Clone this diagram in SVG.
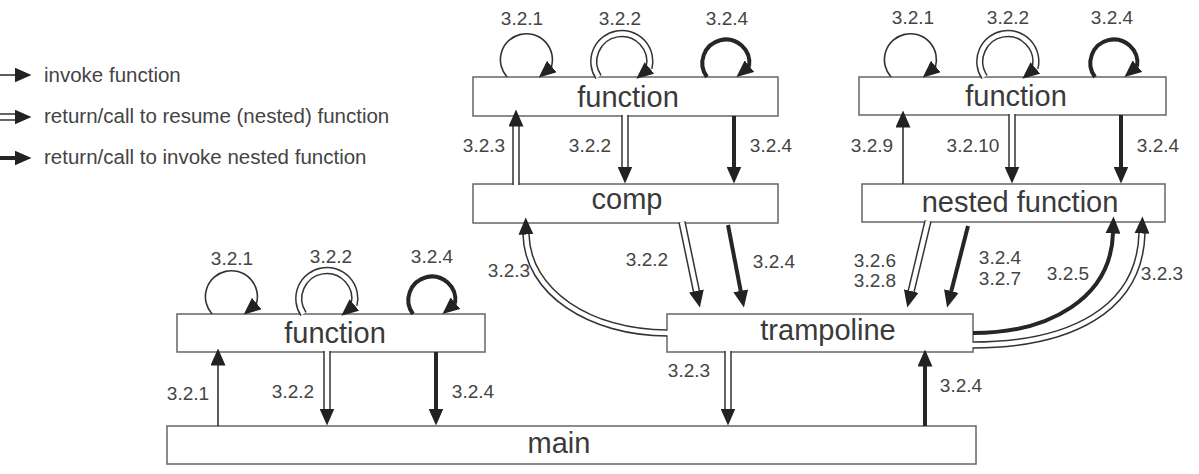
<svg xmlns="http://www.w3.org/2000/svg" width="1199" height="474" viewBox="0 0 1199 474">
<style>
.box{fill:#fff;stroke:#666;stroke-width:1.5}
.nm{font-family:"Liberation Sans",Arial,sans-serif;font-size:29px;fill:#3a3a3a;text-anchor:middle}
.lb{font-family:"Liberation Sans",Arial,sans-serif;font-size:19px;fill:#444;text-anchor:middle}
.lg{font-family:"Liberation Sans",Arial,sans-serif;font-size:20.5px;fill:#444}
.s{fill:none;stroke:#333;stroke-width:1.6}
.t{fill:none;stroke:#262626;stroke-width:4}
.do{fill:none;stroke:#333;stroke-width:7.5}
.di{fill:none;stroke:#fff;stroke-width:4.5}
</style>
<defs>
<marker id="ah" viewBox="0 0 17 15" markerWidth="17" markerHeight="15" refX="0.5" refY="7.5" orient="auto" markerUnits="userSpaceOnUse"><path d="M0,0 L17,7.5 L0,15 Z" fill="#222"/></marker>
<marker id="al" viewBox="0 0 17 15" markerWidth="17" markerHeight="15" refX="0.5" refY="7.5" orient="140" markerUnits="userSpaceOnUse"><path d="M0,0 L17,7.5 L0,15 Z" fill="#222"/></marker>
</defs>
<rect width="1199" height="474" fill="#fff"/>

<g id="legend">
<path class="s" d="M0,75 L15,75" marker-end="url(#ah)"/>
<text class="lg" x="44" y="82">invoke function</text>
<path class="do" d="M0,117 L15,117"/><path class="di" d="M0,117 L15,117" marker-end="url(#ah)"/>
<text class="lg" x="44" y="123">return/call to resume (nested) function</text>
<path class="t" d="M0,158 L15,158" marker-end="url(#ah)"/>
<text class="lg" x="44" y="164">return/call to invoke nested function</text>
</g>

<g id="node-function-a"><rect class="box" x="473" y="77" width="305" height="39"/><text class="nm" x="628" y="107">function</text></g>
<g id="node-comp"><rect class="box" x="473" y="184" width="305" height="39"/><text class="nm" x="627" y="209">comp</text></g>
<g id="node-function-b"><rect class="box" x="859" y="77" width="307" height="38"/><text class="nm" x="1016" y="106">function</text></g>
<g id="node-nested"><rect class="box" x="862" y="184" width="303" height="38"/><text class="nm" x="1020" y="212">nested function</text></g>
<g id="node-function-c"><rect class="box" x="177" y="314" width="308" height="38"/><text class="nm" x="335" y="343">function</text></g>
<g id="node-trampoline"><rect class="box" x="667" y="314" width="306" height="38"/><text class="nm" x="828" y="340">trampoline</text></g>
<g id="node-main"><rect class="box" x="167" y="426" width="809" height="38"/><text class="nm" x="559" y="453">main</text></g>

<g id="connectors">
<path class="s" d="M507,77 A26,26 0 1 1 551.4,66.9" marker-end="url(#al)"/>
<path class="do" d="M598.5,77 A28,28 0 1 1 649,68.2"/><path class="di" d="M598.5,77 A28,28 0 1 1 649,68.2" marker-end="url(#al)"/>
<path class="t" d="M707,77 A23.5,23.5 0 1 1 749.1,66.5" marker-end="url(#al)"/>
<path class="s" d="M891,77 A26,26 0 1 1 935.4,66.9" marker-end="url(#al)"/>
<path class="do" d="M984.5,77 A28,28 0 1 1 1035,68.2"/><path class="di" d="M984.5,77 A28,28 0 1 1 1035,68.2" marker-end="url(#al)"/>
<path class="t" d="M1095,77 A23.5,23.5 0 1 1 1137.1,66.5" marker-end="url(#al)"/>
<path class="s" d="M212,314 A26,26 0 1 1 256.4,303.9" marker-end="url(#al)"/>
<path class="do" d="M303.5,314 A28,28 0 1 1 354,305.2"/><path class="di" d="M303.5,314 A28,28 0 1 1 354,305.2" marker-end="url(#al)"/>
<path class="t" d="M413,314 A23.5,23.5 0 1 1 455.1,303.5" marker-end="url(#al)"/>

<path class="do" d="M516,185 L516,126"/><path class="di" d="M516,185 L516,126" marker-end="url(#ah)"/>
<path class="do" d="M625,115 L625,167"/><path class="di" d="M625,115 L625,167" marker-end="url(#ah)"/>
<path class="t" d="M734,116 L734,167" marker-end="url(#ah)"/>
<path class="s" d="M903,184 L903,127" marker-end="url(#ah)"/>
<path class="do" d="M1012,114 L1012,167"/><path class="di" d="M1012,114 L1012,167" marker-end="url(#ah)"/>
<path class="t" d="M1121,115 L1121,167" marker-end="url(#ah)"/>
<path class="s" d="M218,426 L218,365" marker-end="url(#ah)"/>
<path class="do" d="M327,351 L327,409"/><path class="di" d="M327,351 L327,409" marker-end="url(#ah)"/>
<path class="t" d="M436,352 L436,409" marker-end="url(#ah)"/>
<path class="do" d="M728,351 L728,409"/><path class="di" d="M728,351 L728,409" marker-end="url(#ah)"/>
<path class="t" d="M925,426 L925,366" marker-end="url(#ah)"/>
<path class="do" d="M682,222 L696.5,291.4"/><path class="di" d="M682,222 L696.5,291.4" marker-end="url(#ah)"/>
<path class="t" d="M728,225 L740.8,291.3" marker-end="url(#ah)"/>
<path class="do" d="M928,221 L911.1,291.5"/><path class="di" d="M928,221 L911.1,291.5" marker-end="url(#ah)"/>
<path class="t" d="M968,226 L951.2,291.5" marker-end="url(#ah)"/>
<path class="do" d="M667,333 C590,333 527,292 526,234"/><path class="di" d="M668,333 C590,333 527,292 526,234" marker-end="url(#ah)"/>
<path class="t" d="M973,333 C1050,333 1111,298 1113,233" marker-end="url(#ah)"/>
<path class="do" d="M973,345 C1070,345 1140,310 1142,233"/><path class="di" d="M972,345 C1070,345 1140,310 1142,233" marker-end="url(#ah)"/>
</g>

<g id="labels">
<text class="lb" x="522" y="25">3.2.1</text>
<text class="lb" x="620" y="25">3.2.2</text>
<text class="lb" x="727" y="25">3.2.4</text>
<text class="lb" x="484" y="152">3.2.3</text>
<text class="lb" x="590" y="152">3.2.2</text>
<text class="lb" x="771" y="152">3.2.4</text>
<text class="lb" x="913" y="24">3.2.1</text>
<text class="lb" x="1008" y="24">3.2.2</text>
<text class="lb" x="1112" y="24">3.2.4</text>
<text class="lb" x="872" y="152">3.2.9</text>
<text class="lb" x="973" y="152">3.2.10</text>
<text class="lb" x="1158" y="152">3.2.4</text>
<text class="lb" x="232" y="265">3.2.1</text>
<text class="lb" x="331" y="263">3.2.2</text>
<text class="lb" x="432" y="263">3.2.4</text>
<text class="lb" x="188" y="400">3.2.1</text>
<text class="lb" x="293" y="398">3.2.2</text>
<text class="lb" x="473" y="398">3.2.4</text>
<text class="lb" x="509" y="277">3.2.3</text>
<text class="lb" x="647" y="266">3.2.2</text>
<text class="lb" x="774" y="268">3.2.4</text>
<text class="lb" x="875" y="267">3.2.6</text>
<text class="lb" x="875" y="287">3.2.8</text>
<text class="lb" x="1000" y="264">3.2.4</text>
<text class="lb" x="1000" y="285">3.2.7</text>
<text class="lb" x="1068" y="280">3.2.5</text>
<text class="lb" x="1162" y="280">3.2.3</text>
<text class="lb" x="689" y="377">3.2.3</text>
<text class="lb" x="961" y="392">3.2.4</text>
</g>
</svg>
